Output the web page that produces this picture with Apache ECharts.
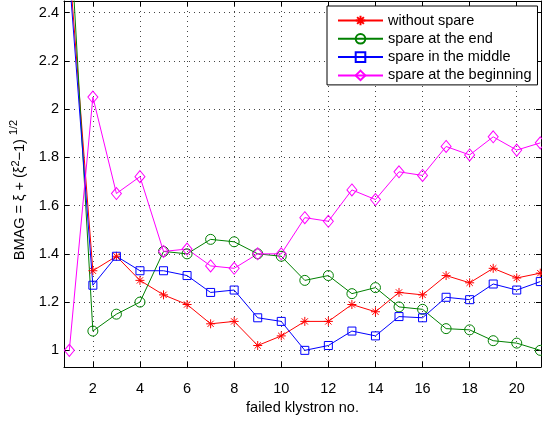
<!DOCTYPE html>
<html>
<head>
<meta charset="utf-8">
<script src="https://cdn.jsdelivr.net/npm/echarts@6/dist/echarts.min.js"></script>
<style>
  html, body { margin: 0; padding: 0; background: #fff; }
  #chart { width: 542px; height: 422px; }
</style>
</head>
<body>
<div id="chart"></div>
<script>
// Failed klystron index (x axis)
var klystron = [1, 2, 3, 4, 5, 6, 7, 8, 9, 10, 11, 12, 13, 14, 15, 16, 17, 18, 19, 20, 21];

// BMAG values for each spare placement
var withoutSpare = [2.6, 1.33, 1.39, 1.29, 1.23, 1.19, 1.11, 1.12, 1.02, 1.06, 1.12, 1.12, 1.19, 1.16, 1.24, 1.23, 1.31, 1.28, 1.34, 1.30, 1.32];
var spareAtEnd = [2.8, 1.08, 1.15, 1.20, 1.41, 1.40, 1.46, 1.45, 1.40, 1.39, 1.29, 1.31, 1.235, 1.26, 1.18, 1.17, 1.09, 1.085, 1.04, 1.03, 1.0];
var spareInMiddle = [2.55, 1.27, 1.39, 1.33, 1.33, 1.31, 1.24, 1.25, 1.135, 1.12, 1.0, 1.02, 1.08, 1.06, 1.14, 1.135, 1.22, 1.21, 1.275, 1.25, 1.285];
var spareAtBeginning = [1.0, 2.05, 1.65, 1.72, 1.41, 1.42, 1.35, 1.34, 1.40, 1.40, 1.55, 1.535, 1.665, 1.625, 1.74, 1.725, 1.845, 1.81, 1.885, 1.83, 1.86];

// Tick positions
var xTicks = [2, 4, 6, 8, 10, 12, 14, 16, 18, 20];
var yTicks = [1, 1.2, 1.4, 1.6, 1.8, 2, 2.2, 2.4];

var seriesNames = ['without spare', 'spare at the end', 'spare in the middle', 'spare at the beginning'];

function pairs(ys) {
  return klystron.map(function (x, i) { return [x, ys[i]]; });
}

var FONT = 'Liberation Sans, Arial, Helvetica, sans-serif';
var FS = 14.5;
var gridDots = { color: '#444', width: 1, type: [1, 4] };
var asterisk = 'path://M5,0L5,10M0,5L10,5M1.5,1.5L8.5,8.5M1.5,8.5L8.5,1.5';

var chart = echarts.init(document.getElementById('chart'), null, { renderer: 'canvas' });

function lineSeries(name, ys, color, symbol, size, fill) {
  return {
    name: name,
    type: 'line',
    data: pairs(ys),
    symbol: symbol,
    symbolSize: size,
    showSymbol: true,
    clip: true,
    lineStyle: { color: color, width: 1 },
    itemStyle: { color: fill, borderColor: color, borderWidth: 1 },
    emphasis: { disabled: true },
    z: 3
  };
}

var option = {
  animation: false,
  backgroundColor: '#fff',
  textStyle: { fontFamily: FONT },
  grid: { left: 61, right: 1, top: 1, bottom: 55, containLabel: false },
  legend: {
    orient: 'vertical',
    left: 327,
    top: 6,
    itemWidth: 45,
    itemHeight: 12,
    itemGap: 3.3,
    padding: [7, 6, 2, 10],
    borderColor: '#000',
    borderWidth: 1,
    backgroundColor: '#fff',
    selectedMode: false,
    textStyle: { fontFamily: FONT, fontSize: FS, color: '#000' },
    data: seriesNames
  },
  xAxis: [{
    type: 'value',
    min: 0.774,
    max: 21.03,
    position: 'bottom',
    name: 'failed klystron no.',
    nameLocation: 'middle',
    nameGap: 33,
    nameTextStyle: { fontFamily: FONT, fontSize: FS, color: '#000' },
    axisLine: { show: true, onZero: false, lineStyle: { color: '#000', width: 1 } },
    axisTick: { show: true, inside: true, length: 5, customValues: xTicks, lineStyle: { color: '#000' } },
    axisLabel: { customValues: xTicks, margin: 14, fontFamily: FONT, fontSize: FS, color: '#000' },
    splitLine: { show: true, lineStyle: gridDots }
  }, {
    type: 'value',
    min: 0.774,
    max: 21.03,
    position: 'top',
    axisLine: { show: true, onZero: false, lineStyle: { color: '#000', width: 1 } },
    axisTick: { show: true, inside: true, length: 5, customValues: xTicks, lineStyle: { color: '#000' } },
    axisLabel: { show: false, customValues: xTicks },
    splitLine: { show: false }
  }],
  yAxis: [{
    type: 'value',
    min: 0.931,
    max: 2.448,
    position: 'left',
    name: 'BMAG = ξ + (ξ{sup|2}−1) {sup2|1/2}',
    nameLocation: 'middle',
    nameRotate: 90,
    nameGap: 32,
    nameTextStyle: {
      fontFamily: FONT, fontSize: FS, color: '#000',
      padding: [0, 12, 0, 0],
      rich: {
        sup: { fontFamily: FONT, fontSize: 11, color: '#000', padding: [0, 0, 9, 0] },
        sup2: { fontFamily: FONT, fontSize: 11, color: '#000', padding: [0, 0, 13, 0] }
      }
    },
    axisLine: { show: true, onZero: false, lineStyle: { color: '#000', width: 1 } },
    axisTick: { show: true, inside: true, length: 5, customValues: yTicks, lineStyle: { color: '#000' } },
    axisLabel: {
      customValues: yTicks, margin: 5, fontFamily: FONT, fontSize: FS, color: '#000',
      formatter: function (v) { return String(Math.round(v * 10) / 10); }
    },
    splitLine: { show: true, lineStyle: gridDots }
  }, {
    type: 'value',
    min: 0.931,
    max: 2.448,
    position: 'right',
    axisLine: { show: true, onZero: false, lineStyle: { color: '#000', width: 1 } },
    axisTick: { show: true, inside: true, length: 5, customValues: yTicks, lineStyle: { color: '#000' } },
    axisLabel: { show: false, customValues: yTicks },
    splitLine: { show: false }
  }],
  series: [
    lineSeries(seriesNames[0], withoutSpare, '#ff0000', asterisk, 9, '#ff0000'),
    lineSeries(seriesNames[1], spareAtEnd, '#008000', 'circle', 10, 'rgba(0,0,0,0)'),
    lineSeries(seriesNames[2], spareInMiddle, '#0000ff', 'rect', 8, 'rgba(0,0,0,0)'),
    lineSeries(seriesNames[3], spareAtBeginning, '#ff00ff', 'diamond', [10, 12], 'rgba(0,0,0,0)')
  ]
};

chart.setOption(option);
</script>
</body>
</html>
